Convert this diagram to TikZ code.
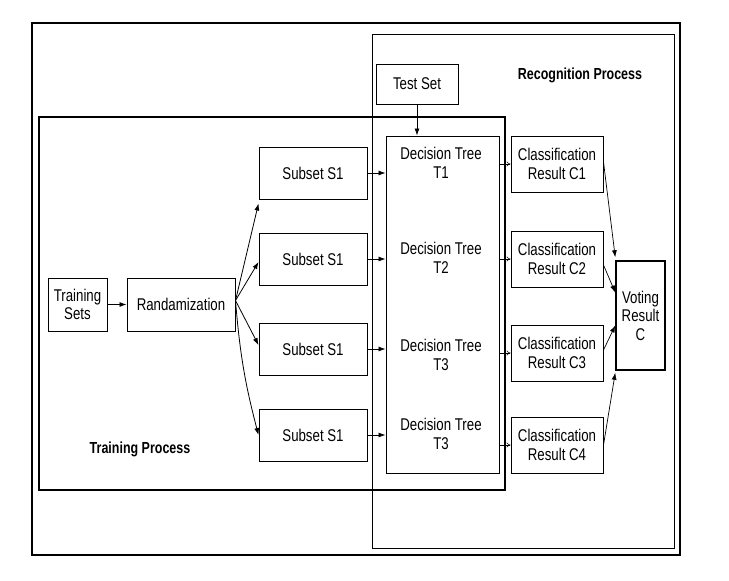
\documentclass[tikz,border=0pt]{standalone}
\usepackage{fontspec}
\setmainfont{Liberation Sans}[FakeStretch=0.78]
\usetikzlibrary{positioning, arrows.meta}

\begin{document}
\begin{tikzpicture}[x=1pt, y=-1pt,
  block/.style={draw, line width=1pt, align=center, inner sep=0pt,
    font=\fontsize{17}{18.5}\selectfont},
  label/.style={align=center, font=\fontsize{17}{18.5}\selectfont},
  title/.style={font=\fontsize{16}{18}\selectfont\bfseries},
  frame/.style={line width=1.4pt},
  flow/.style={-{Latex[length=7pt, width=5pt]}, line width=0.8pt},
  thin/.style={-{To[length=4pt, width=5pt]}, line width=0.5pt}]
  \useasboundingbox (0,0) rectangle (729,581);
  \draw[frame] (32,23) rectangle (680,555);
  \draw[line width=1pt] (372,34) rectangle (674,548);
  \draw[frame] (39,117) rectangle (505,490);
  \node[title] (rectitle) at (580,75) {Recognition Process};
  \node[title] (traintitle) at (140,449) {Training Process};

  \node[block, minimum width=59pt, minimum height=53pt] (train) at (77.5,304.5) {Training\\Sets};
    \node[block, minimum width=108pt, minimum height=53pt] (rand) at (181,304.5) {Randamization};
    \draw[flow] (train) -- (rand);

  \node[block, minimum width=108pt, minimum height=52pt] (s1) at (313,173) {Subset S1};
    \node[block, minimum width=108pt, minimum height=52pt, below of=s1, node distance=86pt] (s2) {Subset S1};
    \node[block, minimum width=108pt, minimum height=52pt, below of=s2, node distance=90pt] (s3) {Subset S1};
    \node[block, minimum width=108pt, minimum height=52pt, below of=s3, node distance=86pt] (s4) {Subset S1};
    \draw[flow] ([yshift=4pt]rand.east) -- ([yshift=-4pt]s1.south west);
    \draw[flow] ([yshift=4pt]rand.east) -- ([yshift=-3pt]s2.west);
    \draw[flow] ([yshift=4pt]rand.east) -- ([yshift=4pt]s3.west);
    \draw[flow] ([yshift=4pt]rand.east) to[bend right=5] (s4.west);

  \node[block, minimum width=82pt, minimum height=40pt] (test) at (417,84) {Test Set};
  \node[block, minimum width=113pt, minimum height=337pt] (trees) at (442.5,304.5) {};
    \node[label] (t1) at (441,163) {Decision Tree\\T1};
    \node[label] (t2) at (441,258) {Decision Tree\\T2};
    \node[label] (t3) at (441,355) {Decision Tree\\T3};
    \node[label] (t4) at (441,434) {Decision Tree\\T3};
    \draw[flow] (test.south) -- (test.south |- trees.north);
    \foreach \s in {s1, s2, s3, s4}
      \draw[flow] (\s.east) -- (\s.east -| trees.west);

  \node[block, minimum width=92pt, minimum height=56pt] (c1) at (557,164) {Classification\\Result C1};
    \node[block, minimum width=92pt, minimum height=56pt, below of=c1, node distance=95pt] (c2) {Classification\\Result C2};
    \node[block, minimum width=92pt, minimum height=56pt, below of=c2, node distance=94pt] (c3) {Classification\\Result C3};
    \node[block, minimum width=92pt, minimum height=56pt, below of=c3, node distance=92pt] (c4) {Classification\\Result C4};
    \foreach \c in {c1, c2, c3, c4}
      \draw[thin] (\c.west -| trees.east) -- (\c.west);

  \node[block, line width=1.5pt, minimum width=49pt, minimum height=109pt] (vote) at (640.5,315.5) {Voting\\Result\\C};
    \draw[flow, line width=0.7pt] ([yshift=2pt]c1.east) -- ([yshift=3pt]vote.north west);
    \draw[flow, line width=0.7pt] ([yshift=-6pt]c2.east) -- ([yshift=23pt]vote.west);
    \draw[flow, line width=0.7pt] ([yshift=3pt]c3.east) -- ([yshift=-10pt]vote.west);
    \draw[flow, line width=0.7pt] (c4.east) -- ([yshift=-2pt]vote.south west);
\end{tikzpicture}
\end{document}
